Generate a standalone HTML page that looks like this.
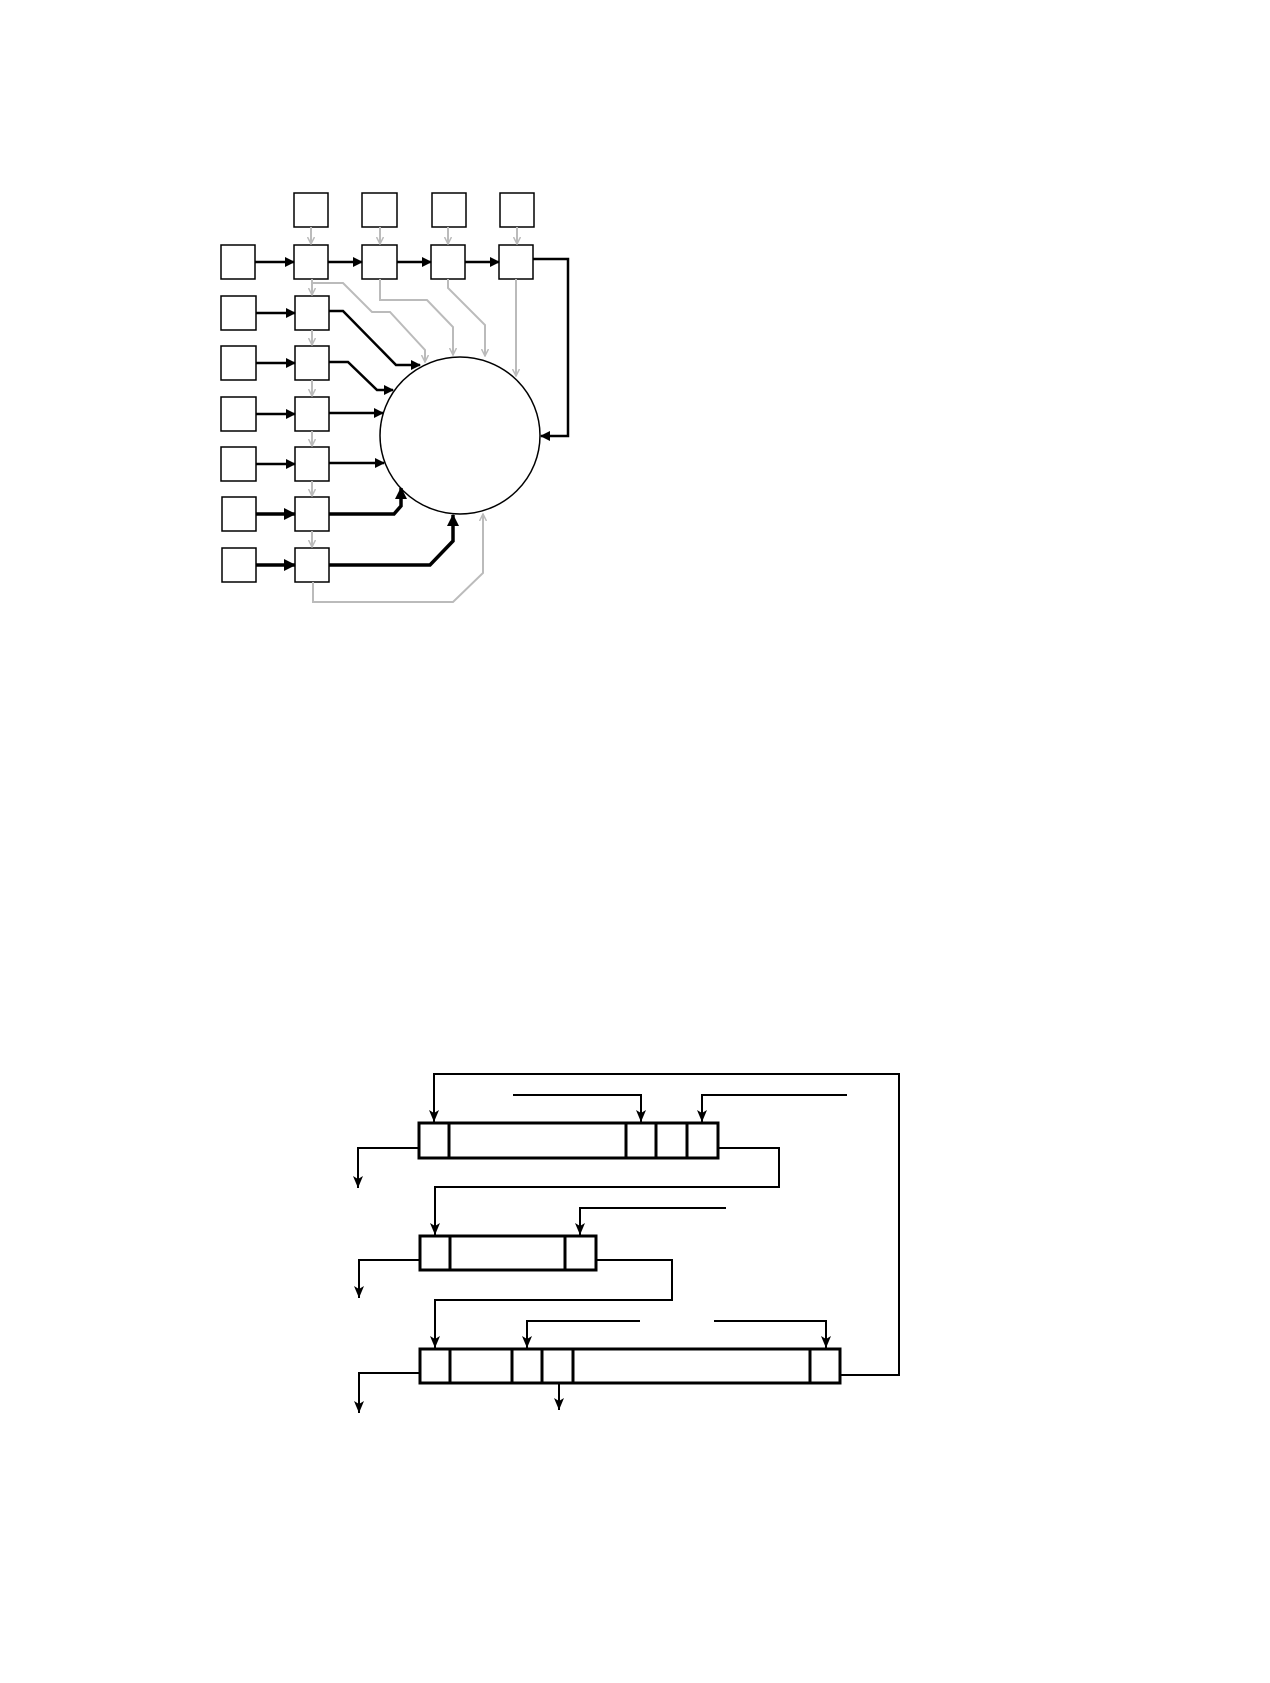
<!DOCTYPE html>
<html><head><meta charset="utf-8"><style>html,body{margin:0;padding:0;background:#fff}svg{display:block}</style></head><body>
<svg width="1270" height="1683" viewBox="0 0 1270 1683" xmlns="http://www.w3.org/2000/svg">
<defs>
<marker id="ab" markerWidth="10" markerHeight="10" refX="9" refY="5" orient="auto" markerUnits="userSpaceOnUse"><path d="M0,0 L10,5 L0,10 z" fill="#000"/></marker>
<marker id="abs" markerWidth="12" markerHeight="12" refX="11" refY="6" orient="auto" markerUnits="userSpaceOnUse"><path d="M0,0 L12,6 L0,12 z" fill="#000"/></marker>
<marker id="ag" markerWidth="8" markerHeight="8" refX="7" refY="4" orient="auto" markerUnits="userSpaceOnUse"><path d="M0,0.5 L7,4 L0,7.5" fill="none" stroke="#bbb" stroke-width="1.5"/></marker>
<marker id="as" markerWidth="13" markerHeight="10" refX="12" refY="5" orient="auto" markerUnits="userSpaceOnUse"><path d="M0,0 L12,5 L0,10 L3,5 z" fill="#000"/></marker>
</defs>
<g fill="#fff" stroke="#000" stroke-width="1.5">
<rect x="294" y="193" width="34" height="34"/><rect x="362" y="193" width="35" height="34"/><rect x="432" y="193" width="34" height="34"/><rect x="500" y="193" width="34" height="34"/>
<rect x="221" y="245" width="34" height="34"/><rect x="294" y="245" width="34" height="34"/><rect x="362" y="245" width="35" height="34"/><rect x="431" y="245" width="34" height="34"/><rect x="499" y="245" width="34" height="34"/>
<rect x="221" y="296" width="35" height="34"/><rect x="295" y="296" width="34" height="34"/>
<rect x="221" y="346" width="35" height="34"/><rect x="295" y="346" width="34" height="34"/>
<rect x="221" y="397" width="35" height="34"/><rect x="295" y="397" width="34" height="34"/>
<rect x="221" y="447" width="35" height="34"/><rect x="295" y="447" width="34" height="34"/>
<rect x="222" y="497" width="34" height="34"/><rect x="295" y="497" width="34" height="34"/>
<rect x="222" y="548" width="34" height="34"/><rect x="295" y="548" width="34" height="34"/>
<ellipse cx="460" cy="435.5" rx="80" ry="78.5"/>
</g>
<g fill="none" stroke="#bbb" stroke-width="2" marker-end="url(#ag)">
<line x1="311" y1="227" x2="311" y2="244"/><line x1="380" y1="227" x2="380" y2="244"/><line x1="448" y1="227" x2="448" y2="244"/><line x1="517" y1="227" x2="517" y2="244"/>
<line x1="312" y1="279" x2="312" y2="295"/><line x1="312" y1="330" x2="312" y2="345"/><line x1="312" y1="380" x2="312" y2="396"/><line x1="312" y1="431" x2="312" y2="446"/><line x1="312" y1="481" x2="312" y2="496"/><line x1="312" y1="531" x2="312" y2="547"/>
<polyline points="313,283 343,283 372,312 390,312 425,350 425,362"/>
<polyline points="380,279 380,300 427,300 453,327 453,355"/>
<polyline points="448,279 448,288 485,325 485,356"/>
<polyline points="516,279 516,376"/>
<polyline points="313,582 313,602 453,602 483,573 483,514"/>
</g>
<g fill="none" stroke="#000" stroke-width="2.5" marker-end="url(#ab)">
<line x1="255" y1="262" x2="294" y2="262"/><line x1="328" y1="262" x2="362" y2="262"/><line x1="397" y1="262" x2="431" y2="262"/><line x1="465" y1="262" x2="499" y2="262"/>
<line x1="256" y1="313" x2="295" y2="313"/><line x1="256" y1="363" x2="295" y2="363"/><line x1="256" y1="414" x2="295" y2="414"/><line x1="256" y1="464" x2="295" y2="464"/>
<polyline points="533,259 568,259 568,436 541,436"/>
<polyline points="329,311 343,311 396,365 420,365"/>
<polyline points="329,362 348,362 377,390 393,390"/>
<line x1="329" y1="413" x2="383" y2="413"/>
<line x1="329" y1="463" x2="384" y2="463"/>
</g>
<g fill="none" stroke="#000" stroke-width="3.5" marker-end="url(#abs)">
<line x1="256" y1="514" x2="295" y2="514"/><line x1="256" y1="565" x2="295" y2="565"/>
<polyline points="329,514 394,514 401,506 401,488"/>
<polyline points="329,565 430,565 453,541 453,515"/>
</g>
<g fill="#fff" stroke="#000" stroke-width="3">
<rect x="419" y="1123" width="299" height="35"/>
<line x1="449" y1="1123" x2="449" y2="1158"/><line x1="626" y1="1123" x2="626" y2="1158"/><line x1="656" y1="1123" x2="656" y2="1158"/><line x1="687" y1="1123" x2="687" y2="1158"/>
<rect x="420" y="1236" width="176" height="34"/>
<line x1="450" y1="1236" x2="450" y2="1270"/><line x1="565" y1="1236" x2="565" y2="1270"/>
<rect x="420" y="1349" width="420" height="34"/>
<line x1="450" y1="1349" x2="450" y2="1383"/><line x1="512" y1="1349" x2="512" y2="1383"/><line x1="542" y1="1349" x2="542" y2="1383"/><line x1="573" y1="1349" x2="573" y2="1383"/><line x1="810" y1="1349" x2="810" y2="1383"/>
</g>
<g fill="none" stroke="#000" stroke-width="2" marker-end="url(#as)">
<polyline points="840,1375 899,1375 899,1074 434,1074 434,1122"/>
<polyline points="513,1095 641,1095 641,1122"/>
<polyline points="847,1095 702,1095 702,1122"/>
<polyline points="419,1148 358,1148 358,1188"/>
<polyline points="718,1148 779,1148 779,1187 435,1187 435,1235"/>
<polyline points="726,1208 580,1208 580,1235"/>
<polyline points="420,1260 359,1260 359,1298"/>
<polyline points="596,1260 672,1260 672,1300 435,1300 435,1348"/>
<polyline points="640,1321 527,1321 527,1348"/>
<polyline points="714,1321 826,1321 826,1348"/>
<polyline points="420,1373 359,1373 359,1413"/>
<polyline points="559,1383 559,1410"/>
</g>
</svg>
</body></html>
